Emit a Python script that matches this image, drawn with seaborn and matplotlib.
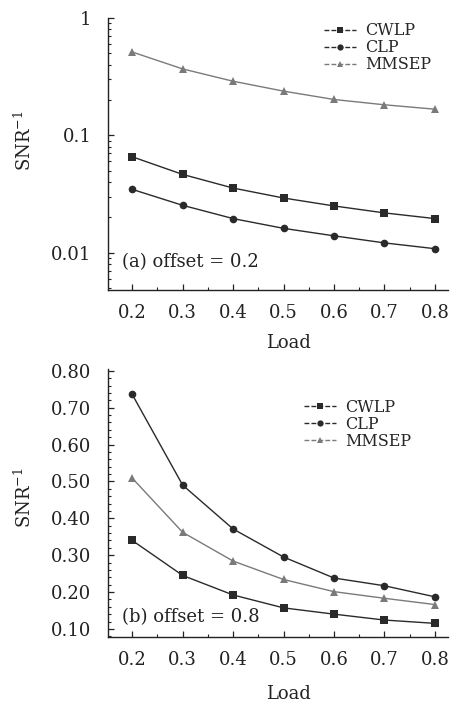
import numpy as np
import pandas as pd
import matplotlib
matplotlib.use("Agg")
import matplotlib.pyplot as plt
import seaborn as sns
from matplotlib.lines import Line2D
from matplotlib.ticker import FixedLocator, MultipleLocator, LogLocator, NullFormatter, FixedFormatter

sns.set_theme(style="ticks")
plt.rcParams['font.family'] = ['DejaVu Serif']
plt.rcParams['mathtext.fontset'] = 'dejavuserif'

load = [0.2, 0.3, 0.4, 0.5, 0.6, 0.7, 0.8]
series = ["CWLP", "CLP", "MMSEP"]

# (a) offset = 0.2 (log scale)
a_cwlp = [0.0656, 0.0464, 0.0355, 0.0292, 0.0250, 0.0218, 0.0195]
a_clp = [0.0346, 0.0253, 0.0195, 0.0161, 0.0139, 0.0121, 0.0108]
a_mmsep = [0.513, 0.368, 0.289, 0.238, 0.202, 0.182, 0.167]

# (b) offset = 0.8 (linear scale)
b_cwlp = [0.340, 0.245, 0.192, 0.157, 0.140, 0.124, 0.115]
b_clp = [0.736, 0.490, 0.371, 0.295, 0.238, 0.217, 0.187]
b_mmsep = [0.509, 0.362, 0.284, 0.234, 0.201, 0.183, 0.166]

xticks = [0.2, 0.3, 0.4, 0.5, 0.6, 0.7, 0.8]
xticklabels = ["0.2", "0.3", "0.4", "0.5", "0.6", "0.7", "0.8"]
a_yticks = [0.01, 0.1, 1]
a_yticklabels = ["0.01", "0.1", "1"]
b_yticks = [0.10, 0.20, 0.30, 0.40, 0.50, 0.60, 0.70, 0.80]
b_yticklabels = ["0.10", "0.20", "0.30", "0.40", "0.50", "0.60", "0.70", "0.80"]


def make_df(c1, c2, c3):
    rows = []
    for name, vals in zip(series, [c1, c2, c3]):
        for x, v in zip(load, vals):
            rows.append({"Load": x, "value": v, "series": name})
    return pd.DataFrame(rows)


palette = {"CWLP": "#2a2a2a", "CLP": "#2a2a2a", "MMSEP": "#7a7a7a"}
markers = {"CWLP": "s", "CLP": "o", "MMSEP": "^"}

fig = plt.figure(figsize=(4.59, 7.04), dpi=100)
ax1 = fig.add_axes([108/459, 1-290/704, 340/459, 272/704])
ax2 = fig.add_axes([108/459, 1-637/704, 340/459, 268/704])

for ax, df in [(ax1, make_df(a_cwlp, a_clp, a_mmsep)), (ax2, make_df(b_cwlp, b_clp, b_mmsep))]:
    sns.lineplot(data=df, x="Load", y="value", hue="series", style="series",
                 palette=palette, markers=markers, dashes=False, ax=ax,
                 linewidth=1.0, markersize=5.5, markeredgewidth=0, legend=False)

fs = 13
for ax in (ax1, ax2):
    sns.despine(ax=ax)
    ax.set_xlim(0.152, 0.826)
    ax.xaxis.set_major_locator(FixedLocator(xticks))
    ax.set_xticklabels(xticklabels, fontsize=fs)
    ax.xaxis.set_minor_locator(MultipleLocator(0.05))
    ax.tick_params(axis="both", which="major", direction="in", length=4, width=0.9, colors="#222222", labelcolor="#222222")
    ax.tick_params(axis="x", which="major", pad=10)
    ax.tick_params(axis="y", which="major", pad=12)
    ax.tick_params(axis="both", which="minor", direction="in", length=2.5, width=0.8, colors="#222222")
    for s in ("left", "bottom"):
        ax.spines[s].set_linewidth(1.0)
        ax.spines[s].set_color("#222222")
    ax.set_xlabel("Load", fontsize=fs, color="#222222")
    ax.set_ylabel("SNR$^{-1}$", fontsize=fs, color="#222222")
    handles = [Line2D([], [], color=palette[s], marker=markers[s], markersize=4.5,
                      markeredgewidth=0, linewidth=1.0, linestyle=(0, (3.5, 1.5)))
               for s in series]
    ax.legend(handles, series, frameon=False, fontsize=11.5, labelspacing=0.0,
              handlelength=2.0, handletextpad=0.6, borderaxespad=0.2, loc="upper right")

# top panel
ax1.set_yscale("log")
ax1.set_ylim(0.0048, 1.0)
ax1.yaxis.set_major_locator(FixedLocator(a_yticks))
ax1.yaxis.set_major_formatter(FixedFormatter(a_yticklabels))
ax1.yaxis.set_minor_locator(LogLocator(base=10, subs=np.arange(2, 10)))
ax1.yaxis.set_minor_formatter(NullFormatter())
for t in ax1.get_yticklabels():
    t.set_fontsize(fs)
ax1.yaxis.set_label_coords(-0.215, 0.55)
ax1.xaxis.set_label_coords(0.53, -0.16)
ax1.legend_.set_bbox_to_anchor((0.98, 1.02), transform=ax1.transAxes)
ax1.text(0.04, 0.085, "(a) offset = 0.2", transform=ax1.transAxes, fontsize=13, color="#222222")

# bottom panel
ax2.set_ylim(0.078, 0.805)
ax2.yaxis.set_major_locator(FixedLocator(b_yticks))
ax2.set_yticklabels(b_yticklabels, fontsize=fs)
ax2.yaxis.set_minor_locator(MultipleLocator(0.02))
ax2.yaxis.set_label_coords(-0.215, 0.52)
ax2.xaxis.set_label_coords(0.53, -0.18)
ax2.legend_.set_bbox_to_anchor((0.92, 0.925), transform=ax2.transAxes)
ax2.text(0.04, 0.055, "(b) offset = 0.8", transform=ax2.transAxes, fontsize=13, color="#222222")

fig.savefig("out.png", dpi=100)
